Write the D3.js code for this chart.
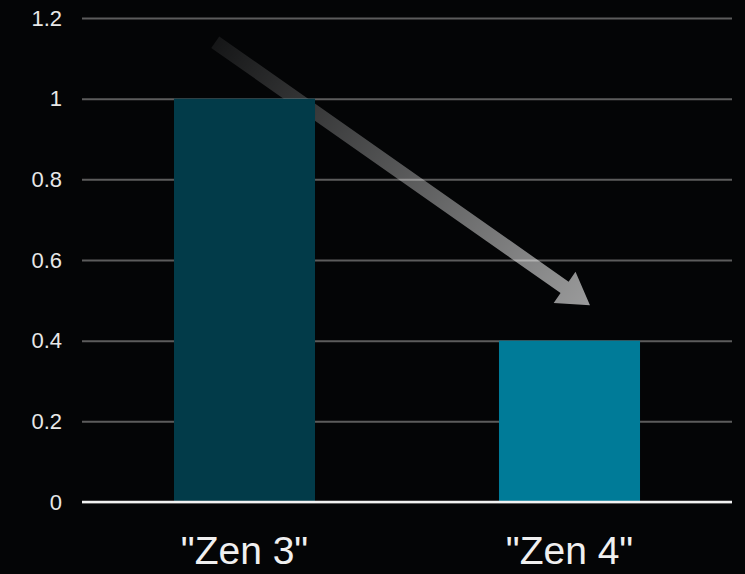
<!DOCTYPE html>
<html>
<head>
<meta charset="utf-8">
<script src="https://cdn.jsdelivr.net/npm/d3@7"></script>
<style>
  html, body { margin: 0; padding: 0; background: #040506; }
  svg { display: block; }
</style>
</head>
<body>
<svg id="chart" width="745" height="574"></svg>
<script>
const categories = ['"Zen 3"', '"Zen 4"'];
const values = [1.0, 0.4];
const barColors = ["#023b49", "#007b98"];
const yTicks = [0, 0.2, 0.4, 0.6, 0.8, 1, 1.2];
const yTickLabels = ["0", "0.2", "0.4", "0.6", "0.8", "1", "1.2"];
// trend arrow annotation: from (category, offset fraction of band, value) to (...)
const arrowFrom = { cat: '"Zen 3"', off: -0.09, v: 1.14 };
const arrowTo = { cat: '"Zen 4"', off: 0.063, v: 0.488 };

const W = 745, H = 574;
const m = { left: 82, right: 13, top: 18, bottom: 72 };
const svg = d3.select("#chart");

svg.append("rect").attr("width", W).attr("height", H).attr("fill", "#040506");

const x = d3.scaleBand().domain(categories).range([m.left, W - m.right]).padding(0);
const y = d3.scaleLinear().domain([0, 1.2]).range([H - m.bottom, m.top]);
const barW = x.bandwidth() * 0.434;

// gridlines
const yAxis = d3.axisLeft(y).tickValues(yTicks)
  .tickFormat((d, i) => yTickLabels[i])
  .tickSize(-(W - m.left - m.right)).tickPadding(20);
const gy = svg.append("g").attr("transform", `translate(${m.left},0)`).call(yAxis);
gy.select(".domain").remove();
gy.selectAll(".tick line").attr("stroke", "#5c5c5c").attr("stroke-width", 2);
gy.selectAll(".tick text").attr("fill", "#e8e8e8")
  .attr("font-family", "Liberation Sans, Arial, sans-serif").attr("font-size", 22);

// arrow (behind bars)
const defs = svg.append("defs");
const x0 = x(arrowFrom.cat) + x.bandwidth() / 2 + arrowFrom.off * x.bandwidth();
const y0 = y(arrowFrom.v);
const x1 = x(arrowTo.cat) + x.bandwidth() / 2 + arrowTo.off * x.bandwidth();
const y1 = y(arrowTo.v);
const grad = defs.append("linearGradient").attr("id", "ag")
  .attr("gradientUnits", "userSpaceOnUse")
  .attr("x1", x0).attr("y1", y0).attr("x2", x1).attr("y2", y1);
grad.append("stop").attr("offset", 0).attr("stop-color", "#ffffff").attr("stop-opacity", 0.07);
grad.append("stop").attr("offset", 1).attr("stop-color", "#ffffff").attr("stop-opacity", 0.6);

const dx = x1 - x0, dy = y1 - y0, L = Math.hypot(dx, dy);
const ux = dx / L, uy = dy / L, px = -uy, py = ux;
const sw = 7, hl = 31, hw = 19;
const bx = x1 - ux * hl, by = y1 - uy * hl;
const pts = [
  [x0 + px * sw, y0 + py * sw],
  [bx + px * sw, by + py * sw],
  [bx + px * hw, by + py * hw],
  [x1, y1],
  [bx - px * hw, by - py * hw],
  [bx - px * sw, by - py * sw],
  [x0 - px * sw, y0 - py * sw]
];
svg.append("path").attr("d", d3.line()(pts) + "Z").attr("fill", "url(#ag)");

// bars
svg.append("g").selectAll("rect").data(categories).join("rect")
  .attr("x", d => x(d) + x.bandwidth() / 2 - barW / 2)
  .attr("y", (d, i) => y(values[i]))
  .attr("width", barW)
  .attr("height", (d, i) => y(0) - y(values[i]))
  .attr("fill", (d, i) => barColors[i]);

// baseline
svg.append("line").attr("x1", m.left).attr("x2", W - m.right)
  .attr("y1", y(0)).attr("y2", y(0)).attr("stroke", "#f2f2f2").attr("stroke-width", 2.5);

// category labels
const xAxis = d3.axisBottom(x).tickSize(0).tickPadding(34);
const gx = svg.append("g").attr("transform", `translate(0,${y(0)})`).call(xAxis);
gx.select(".domain").remove();
gx.selectAll(".tick text").attr("fill", "#f0f0f0")
  .attr("font-family", "Liberation Sans, Arial, sans-serif").attr("font-size", 39);
</script>
</body>
</html>
